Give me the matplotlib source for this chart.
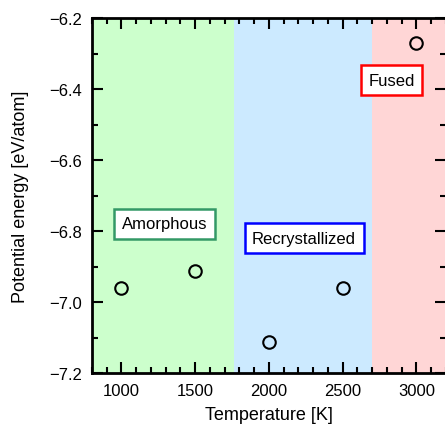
import numpy as np
import matplotlib.pyplot as plt
from matplotlib.ticker import MultipleLocator

plt.rcParams['font.family'] = ['Liberation Sans', 'DejaVu Sans']

# data
temperature = [1000, 1500, 2000, 2500, 3000]
energy = [-6.961, -6.913, -7.113, -6.961, -6.270]

phase_names = ['Amorphous', 'Recrystallized', 'Fused']
phase_edges = [800, 1760, 2700, 3200]
phase_fill = ['#ccffcc', '#cceaff', '#ffd6d6']
phase_edge = ['#339966', '#0000ff', '#ff0000']
label_pos = [(1290, -6.78), (2238, -6.82), (2830, -6.375)]

fig = plt.figure(figsize=(4.45, 4.27), dpi=100)
ax = fig.add_axes([0.2067, 0.124, 0.7955, 0.8315])

for i in range(3):
    ax.axvspan(phase_edges[i], phase_edges[i+1], color=phase_fill[i], lw=0, zorder=0)
    ax.text(label_pos[i][0], label_pos[i][1], phase_names[i], fontsize=12,
            ha='center', va='center', zorder=3,
            bbox=dict(boxstyle='square,pad=0.45', fc='white', ec=phase_edge[i], lw=1.8))

ax.plot(temperature, energy, 'o', mfc='none', mec='black', mew=1.5, ms=9, zorder=4)

ax.set_xlim(800, 3200)
ax.set_ylim(-7.2, -6.2)
ax.xaxis.set_major_locator(MultipleLocator(500))
ax.xaxis.set_minor_locator(MultipleLocator(100))
ax.yaxis.set_major_locator(MultipleLocator(0.2))
ax.yaxis.set_minor_locator(MultipleLocator(0.1))
ax.tick_params(which='both', direction='in', top=True, right=True, width=1.5, labelsize=12)
ax.tick_params(which='major', length=8, pad=7)
ax.tick_params(which='minor', length=4)
for s in ax.spines.values():
    s.set_linewidth(2)

ax.set_xlabel('Temperature [K]', fontsize=13, labelpad=6)
ax.set_ylabel('Potential energy [eV/atom]', fontsize=13, labelpad=15)

plt.savefig('out.png', dpi=100)
